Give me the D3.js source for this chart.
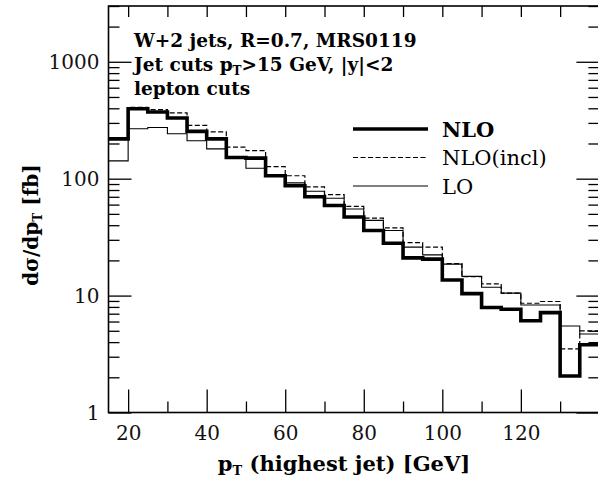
<!DOCTYPE html>
<html>
<head>
<meta charset="utf-8">
<script src="https://cdn.jsdelivr.net/npm/d3@7"></script>
<style>
  body { margin: 0; background: #fff; }
  svg { display: block; }
  .tick text { font-family: "DejaVu Serif", serif; font-size: 20px; fill: #111; }
  .domain { display: none; }
</style>
</head>
<body>
<script>
const width = 598;
const height = 479;

// bin edges: 15,20,...,140 (5 GeV bins)
const binEdges = d3.range(15, 141, 5);

// d sigma / d pT  [fb], one value per bin
const nloValues = [219, 397, 372, 330, 254, 219, 152, 150, 106, 87, 70, 59, 47, 36, 28, 21, 20.5, 13.6, 10.4, 7.9, 7.65, 6.1, 7.15, 2.05, 3.8];
const nloInclValues = [222, 407, 390, 365, 286, 251, 186, 174, 127, 106, 85, 73, 58, 46, 38, 28.4, 26, 18.8, 14.5, 12.6, 10.5, 8.6, 8.9, 3.5, 5.0];
const loValues = [142, 267, 274, 242, 211, 180, 152, 123, 108, 92, 78, 68, 55, 44, 36, 26, 22.3, 18.6, 14.6, 11.8, 10.5, 8.3, 8.3, 5.5, 4.7];

const xMajor = [20, 40, 60, 80, 100, 120];
const xMinor = [30, 50, 70, 90, 110, 130];
const yMajor = [1, 10, 100, 1000];
const yMinor = [2, 3, 4, 5, 6, 7, 8, 9, 20, 30, 40, 50, 60, 70, 80, 90,
  200, 300, 400, 500, 600, 700, 800, 900, 2000, 3000];

const legendItems = ["NLO", "NLO(incl)", "LO"];
const titleLines = ["W+2 jets, R=0.7, MRS0119", "Jet cuts p|T|>15 GeV, |y|<2", "lepton cuts"];

const plotLeft = 108.5, plotRight = 599.4, plotTop = 6, plotBottom = 412.5;

const x = d3.scaleLinear().domain([15, 140]).range([plotLeft, plotRight]);
const y = d3.scaleLog().domain([1, 3000]).range([plotBottom, plotTop]);

const svg = d3.select("body").append("svg")
  .attr("width", width)
  .attr("height", height);

// axes
svg.append("g")
  .attr("class", "yaxis")
  .attr("transform", `translate(${plotLeft},0)`)
  .call(d3.axisLeft(y).tickValues(yMajor).tickSize(-23).tickPadding(9).tickFormat(d3.format("d")));
svg.append("g")
  .attr("transform", `translate(${plotLeft},0)`)
  .call(d3.axisLeft(y).tickValues(yMinor).tickSize(-11).tickFormat(""));
svg.append("g")
  .attr("transform", `translate(${plotRight},0)`)
  .call(d3.axisRight(y).tickValues(yMajor).tickSize(-23).tickFormat(""));
svg.append("g")
  .attr("transform", `translate(${plotRight},0)`)
  .call(d3.axisRight(y).tickValues(yMinor).tickSize(-11).tickFormat(""));

svg.append("g")
  .attr("class", "xaxis")
  .attr("transform", `translate(0,${plotBottom})`)
  .call(d3.axisBottom(x).tickValues(xMajor).tickSize(-23).tickPadding(9));
svg.append("g")
  .attr("transform", `translate(0,${plotBottom})`)
  .call(d3.axisBottom(x).tickValues(xMinor).tickSize(-11).tickFormat(""));
svg.append("g")
  .attr("transform", `translate(0,${plotTop})`)
  .call(d3.axisTop(x).tickValues(xMajor.concat(xMinor)).tickSize(-11).tickFormat(""));

svg.selectAll(".tick line").attr("stroke", "#000").attr("stroke-width", 1.3);
svg.selectAll(".yaxis .tick text").attr("dy", "0.35em");
svg.selectAll(".xaxis .tick text").attr("y", 9).attr("dy", "0.92em");

// frame
svg.append("rect")
  .attr("x", plotLeft).attr("y", plotTop)
  .attr("width", plotRight - plotLeft).attr("height", plotBottom - plotTop)
  .attr("fill", "none").attr("stroke", "#000").attr("stroke-width", 1.6);

// histograms
const step = d3.line()
  .x(d => x(d[0]))
  .y(d => y(d[1]))
  .curve(d3.curveStepAfter);

function histPoints(vals) {
  const pts = vals.map((v, i) => [binEdges[i], v]);
  pts.push([binEdges[binEdges.length - 1], vals[vals.length - 1]]);
  return pts;
}

svg.append("path")
  .attr("d", step(histPoints(loValues)))
  .attr("fill", "none").attr("stroke", "#000").attr("stroke-width", 1.1);
svg.append("path")
  .attr("d", step(histPoints(nloInclValues)))
  .attr("fill", "none").attr("stroke", "#000").attr("stroke-width", 1.2)
  .attr("stroke-dasharray", "5,2.5");
svg.append("path")
  .attr("d", step(histPoints(nloValues)))
  .attr("fill", "none").attr("stroke", "#000").attr("stroke-width", 3.6);

// legend
const legendStyles = [
  { w: 3.6, dash: null, weight: "bold" },
  { w: 1.2, dash: "5,2.5", weight: "normal" },
  { w: 1.1, dash: null, weight: "normal" }
];
const legend = svg.append("g");
legendItems.forEach((name, i) => {
  const ly = 129 + i * 28.5;
  legend.append("line")
    .attr("x1", 353).attr("x2", 428).attr("y1", ly).attr("y2", ly)
    .attr("stroke", "#000").attr("stroke-width", legendStyles[i].w)
    .attr("stroke-dasharray", legendStyles[i].dash);
  legend.append("text")
    .attr("x", 442).attr("y", ly + 7.5)
    .attr("font-family", "DejaVu Serif, serif")
    .attr("font-size", 21)
    .attr("font-weight", legendStyles[i].weight)
    .text(name);
});

// title block
const title = svg.append("g")
  .attr("font-family", "DejaVu Serif, serif")
  .attr("font-weight", "bold")
  .attr("font-size", 18.5);
titleLines.forEach((line, i) => {
  const t = title.append("text").attr("x", 134).attr("y", 47 + i * 24);
  const parts = line.split("|T|");
  if (parts.length > 1) {
    t.append("tspan").text(parts[0]);
    t.append("tspan").attr("font-size", 12).attr("dy", 4).text("T");
    t.append("tspan").attr("dy", -4).text(parts[1]);
  } else {
    t.text(line);
  }
});

// axis titles
const xt = svg.append("text")
  .attr("x", 344).attr("y", 471)
  .attr("text-anchor", "middle")
  .attr("font-family", "DejaVu Serif, serif")
  .attr("font-weight", "bold")
  .attr("font-size", 21);
xt.append("tspan").text("p");
xt.append("tspan").attr("font-size", 13).attr("dy", 4).text("T");
xt.append("tspan").attr("dy", -4).text(" (highest jet) [GeV]");

const yt = svg.append("text")
  .attr("transform", "translate(38,225) rotate(-90)")
  .attr("text-anchor", "middle")
  .attr("font-family", "DejaVu Serif, serif")
  .attr("font-weight", "bold")
  .attr("font-size", 20);
yt.append("tspan").text("dσ/dp");
yt.append("tspan").attr("font-size", 12).attr("dy", 4).text("T");
yt.append("tspan").attr("dy", -4).text(" [fb]");
</script>
</body>
</html>
